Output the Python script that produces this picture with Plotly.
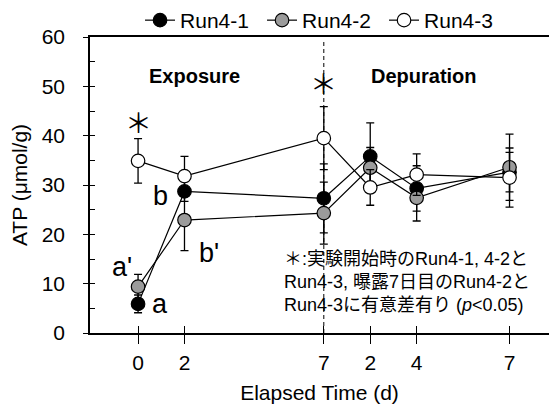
import plotly.graph_objects as go

# Sampling points: axis positions and the day labels shown under them
x_pos = [0, 2, 8, 10, 12, 16]
x_labels = ["0", "2", "7", "2", "4", "7"]

# ATP (µmol/g), mean and error for each run
run4_1 = [5.9, 28.7, 27.3, 35.8, 29.3, 32.6]
run4_1_err = [1.8, 2.0, 7.0, 6.8, 4.6, 4.0]
run4_2 = [9.4, 22.9, 24.3, 33.5, 27.4, 33.6]
run4_2_err = [2.5, 6.2, 6.3, 4.1, 4.7, 6.7]
run4_3 = [34.9, 31.8, 39.5, 29.5, 32.1, 31.5]
run4_3_err = [4.5, 4.0, 6.4, 3.6, 4.2, 6.0]

series = [
    ("Run4-1", run4_1, run4_1_err, "black"),
    ("Run4-2", run4_2, run4_2_err, "#9b9b9b"),
    ("Run4-3", run4_3, run4_3_err, "white"),
]

# significance note, one entry per line
note_lines = [
    "＊:実験開始時のRun4-1, 4-2と",
    "Run4-3, 曝露7日目のRun4-2と",
    "Run4-3に有意差有り (<i>p</i><0.05)",
]

FONT = "Liberation Sans, Arial, Noto Sans CJK JP, sans-serif"
CJK = "Noto Sans CJK JP, Liberation Sans, sans-serif"
FS = 21

fig = go.Figure()
for name, y, err, fill in series:
    fig.add_trace(go.Scatter(
        x=x_pos, y=y, name=name, mode="lines+markers",
        line=dict(color="black", width=1.2),
        marker=dict(size=13.5, color=fill, line=dict(color="black", width=1.2)),
        error_y=dict(type="data", array=err, visible=True,
                     color="black", thickness=1.3, width=4),
    ))

# exposure / depuration boundary
fig.add_shape(type="line", x0=8, x1=8, y0=0, y1=59, xref="x", yref="y",
              line=dict(color="black", width=1, dash="4px,3px"), layer="below")

XR = [-2.07, 17.7]
YR = [0, 60]

fig.update_layout(
    width=549, height=407,
    margin=dict(l=90, r=0, t=33, b=74),
    paper_bgcolor="white", plot_bgcolor="white",
    font=dict(family=FONT, size=FS, color="black"),
    showlegend=True,
    legend=dict(orientation="h", x=0.109, xanchor="left", y=1.057, yanchor="middle",
                entrywidth=77, entrywidthmode="pixels",
                font=dict(size=FS, color="black"), bgcolor="rgba(0,0,0,0)"),
    xaxis=dict(range=XR, tickvals=x_pos, ticktext=x_labels,
               showline=True, linecolor="black", linewidth=1.5, mirror=True,
               ticks="outside", ticklen=9, tickwidth=1.2, tickcolor="black",
               showgrid=False, zeroline=False, ticklabelstandoff=1,
               tickfont=dict(size=FS, color="black"),
               title=dict(text="Elapsed Time (d)", font=dict(size=FS, color="black"),
                          standoff=12)),
    xaxis2=dict(range=XR, overlaying="x", anchor="y", side="bottom",
                tickvals=x_pos, showticklabels=False, ticks="inside",
                ticklen=7, tickwidth=1.2, tickcolor="black",
                showline=False, showgrid=False, zeroline=False),
    yaxis=dict(range=YR, dtick=10, tick0=0,
               showline=True, linecolor="black", linewidth=1.5,
               ticks="outside", ticklen=5, tickwidth=1.2, tickcolor="black",
               showgrid=False, zeroline=False, ticklabelstandoff=14,
               tickfont=dict(size=FS, color="black"),
               title=dict(text="ATP (μmol/g)", font=dict(size=FS, color="black"),
                          standoff=8)),
    yaxis2=dict(range=YR, overlaying="y", anchor="x", side="left",
                dtick=5, tick0=0, showticklabels=False, ticks="inside",
                ticklen=5, tickwidth=1.2, tickcolor="black",
                showline=False, showgrid=False, zeroline=False),
)

# empty trace so the overlay tick axes are drawn
fig.add_trace(go.Scatter(x=[None], y=[None], xaxis="x2", yaxis="y2",
                         showlegend=False, hoverinfo="skip"))

ann = []
ann.append(dict(x=2.41, y=52, text="<b>Exposure</b>", font=dict(size=20)))
ann.append(dict(x=12.33, y=52, text="<b>Depuration</b>", font=dict(size=20)))
ann.append(dict(x=0, y=42.8, text="＊", font=dict(size=27, family=CJK)))
ann.append(dict(x=8, y=50.8, text="＊", font=dict(size=27, family=CJK)))
ann.append(dict(x=0.95, y=5.9, text="a", font=dict(size=27)))
ann.append(dict(x=-0.70, y=13.3, text="a'", font=dict(size=27)))
ann.append(dict(x=0.97, y=27.8, text="b", font=dict(size=27)))
ann.append(dict(x=3.05, y=16.3, text="b'", font=dict(size=27)))
for line, yv in zip(note_lines, [15.0, 10.3, 5.6]):
    ann.append(dict(x=6.2, y=yv, xanchor="left", align="left", text=line,
                    font=dict(size=18)))
for a in ann:
    a["font"].setdefault("color", "black")
    a.setdefault("xanchor", "center")
    a.setdefault("yanchor", "middle")
    a.update(xref="x", yref="y", showarrow=False)
fig.update_layout(annotations=ann)

fig.write_html("out.html")
